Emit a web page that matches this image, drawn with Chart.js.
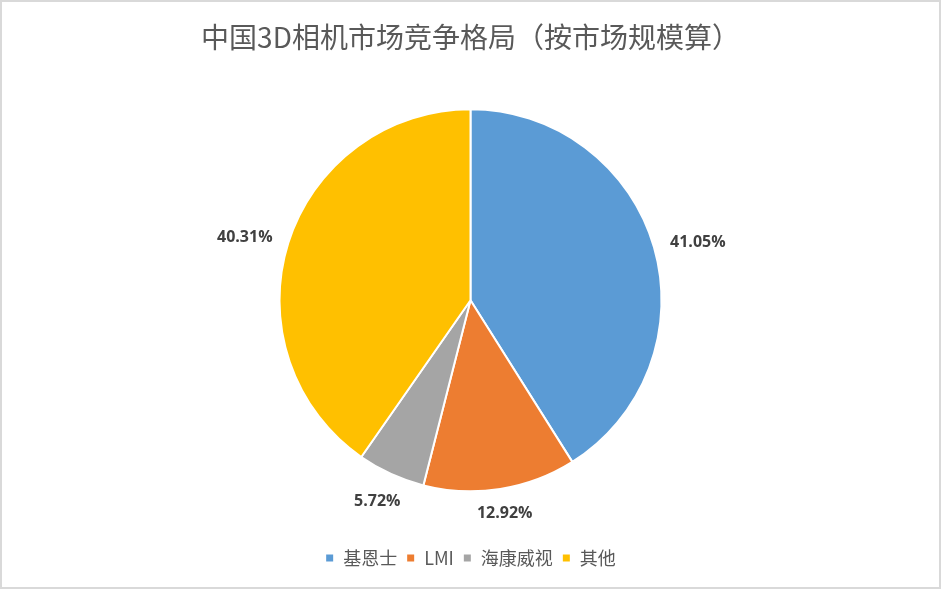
<!DOCTYPE html>
<html>
<head>
<meta charset="utf-8">
<script src="https://cdn.jsdelivr.net/npm/chart.js@4"></script>
<style>
  html, body { margin: 0; padding: 0; background: #fff; }
  #wrap { width: 941px; height: 589px; }
</style>
</head>
<body>
<div id="wrap"><canvas id="pieChart" width="941" height="589"></canvas></div>
<script>
"use strict";

const titleText = "中国3D相机市场竞争格局（按市场规模算）";
const companies = ["基恩士", "LMI", "海康威视", "其他"];
const shares = [41.05, 12.92, 5.72, 40.31];
const sliceColors = ["#5B9BD5", "#ED7D31", "#A5A5A5", "#FFC000"];

// white page + thin grey frame like the exported picture
const framePlugin = {
  id: "frame",
  beforeDraw(chart) {
    const ctx = chart.ctx;
    ctx.save();
    ctx.fillStyle = "#fff";
    ctx.fillRect(0, 0, chart.width, chart.height);
    ctx.strokeStyle = "#d9d9d9";
    ctx.lineWidth = 2;
    ctx.strokeRect(1, 1, chart.width - 2, chart.height - 2);
    ctx.restore();
  }
};

// percentage labels outside each slice
const outsideLabels = {
  id: "outsideLabels",
  afterDatasetsDraw(chart) {
    const ctx = chart.ctx;
    const meta = chart.getDatasetMeta(0);
    ctx.save();
    ctx.font = "bold 16px 'Open Sans'";
    ctx.fillStyle = "#404040";
    ctx.textAlign = "center";
    ctx.textBaseline = "middle";
    meta.data.forEach((arc, i) => {
      const p = arc.getProps(["x", "y", "startAngle", "endAngle", "outerRadius"], true);
      const mid = (p.startAngle + p.endAngle) / 2;
      const text = shares[i].toFixed(2) + "%";
      const w = ctx.measureText(text).width;
      const c = Math.cos(mid), s = Math.sin(mid);
      const d = p.outerRadius + 17 + Math.abs(c) * w / 2 + Math.abs(s) * 7;
      const dy = s < 0 ? 8 : -3;
      ctx.fillText(text, p.x + c * d, p.y + s * d + dy);
    });
    ctx.restore();
  }
};

const ctx = document.getElementById("pieChart").getContext("2d");
new Chart(ctx, {
  type: "pie",
  data: {
    labels: companies,
    datasets: [{
      data: shares,
      backgroundColor: sliceColors,
      borderColor: "#ffffff",
      borderWidth: 2,
      radius: 191
    }]
  },
  options: {
    responsive: false,
    animation: false,
    layout: { padding: { top: 0, bottom: 12, left: 0, right: 0 } },
    plugins: {
      title: {
        display: true,
        text: titleText,
        color: "#595959",
        font: { family: "'Noto Sans CJK SC'", size: 28, weight: "normal", lineHeight: 1.2 },
        padding: { top: 21, bottom: 6 }
      },
      legend: {
        position: "bottom",
        labels: {
          color: "#595959",
          font: { family: "'Noto Sans CJK SC'", size: 18 },
          boxWidth: 9,
          boxHeight: 9,
          padding: 9
        }
      },
      tooltip: { enabled: false }
    }
  },
  plugins: [framePlugin, outsideLabels]
});
</script>
</body>
</html>
